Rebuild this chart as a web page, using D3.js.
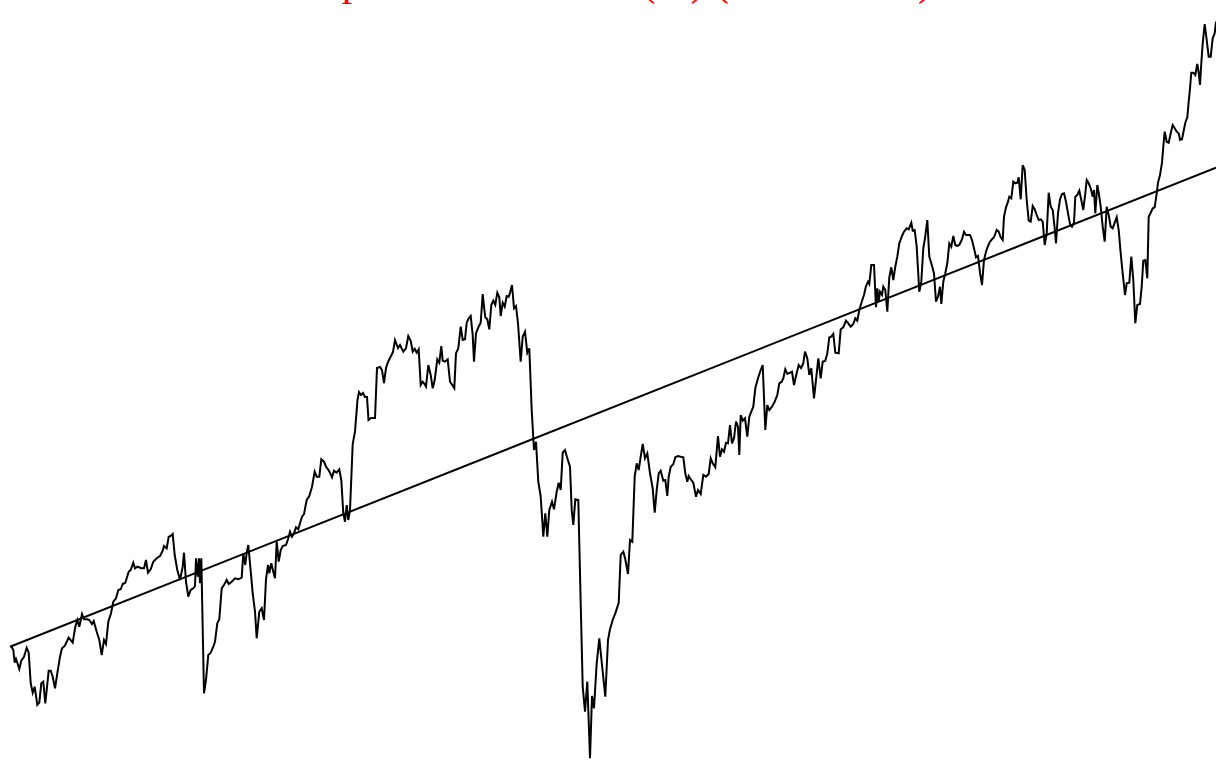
<!DOCTYPE html>
<html>
<head>
<meta charset="utf-8">
<script src="https://cdn.jsdelivr.net/npm/d3@7"></script>
<style>
  html, body { margin: 0; padding: 0; background: #fff; }
  svg { display: block; }
</style>
</head>
<body>
<svg id="chart" width="1216" height="761"></svg>
<script>
// ---- data ----
const titleText = "S&P 500 price vs. its trend (%) (1990\u20132024)";

// time index (weeks from start)
const weeks = [
1,3.3,4.7,6,7.3,9.3,11.3,14,16.7,18.7,20.7,22.7,24.7,27.3,29.3,31.3,33.3,35.3,38.7,40.7,
42.7,45,47.3,50,52,54.7,58.7,62.7,65.3,67.3,69.3,72,74,77.3,79.3,82,83.7,86.7,89.3,91.7,
94,96,98.3,101,103.3,106,108.3,110.7,112.7,115.3,118.7,120.7,123.3,125,127.3,131.7,134,136,138,140.7,
143.3,146.7,150,152.7,154,156.7,158.7,160.7,162.7,164.7,167.3,170,172.7,174,176,178.3,180.7,183.3,185,186,
187.7,189,190,191.3,194,196,198.3,200.7,203.3,205,207.3,209.3,211.7,214,216.7,218.7,221.7,225,228.3,231.7,
233.3,235.3,236.7,238.3,240,242.7,245,246.7,249.3,251.7,254,256,258,259.3,261.3,263.3,265,266.7,268.7,270.7,
272.7,276,278,280,282,284,286,288.3,290,292,294,296.7,299.3,302,304.7,306.7,309.3,311.3,314,316,
318,320,322,324,326.7,329.3,331.3,333.3,335,336.7,338.3,340,342.7,345,347.5,349,351,353,355,357,
358.5,361,365,367,370,372,374,376,378,381,383,385,388,390,393.3,396,398.3,400.7,402.7,404.7,
406.7,408.7,410.7,412.7,414,416,418.3,420.7,422.7,424.7,427.3,429.3,431.3,432.7,435,437.7,440,442.3,444.3,446,
448.3,450.7,452.7,455,456.7,458.7,460.7,462.7,464,466,468.3,470.7,472.7,474,475.3,477.3,479.3,481.3,483.3,485.3,
487.3,489.3,490.7,492.7,494.7,496.7,498.7,500,502,504,506,508,510.7,512.7,515,517.3,519.3,521.7,524,526,
528.3,530.7,533.3,535.3,537.3,539.3,542,544,546.7,548.7,550.7,552.7,555,557.3,560,561.7,563.3,565.3,568.3,570.7,
572.7,575,577.3,580,582,584,586.7,589.3,592,595.3,598,600,602.7,605.3,608.7,610.7,613.3,615.3,618,620,
622.3,624.7,626.7,628.7,630.7,632.7,635,637.3,640,642.7,644.7,646.7,648.7,650.7,653.3,655.3,657.3,658.7,660.7,663.3,
665.3,668,670.7,673.3,675.3,677.3,678.7,680.7,683.3,686,688,690.7,693.3,696,698.7,700.7,702.7,705.3,708,710,
712,714,716,718,720,722,724,726,728,729.3,730.7,732.7,735,737.3,739.3,741.3,743.3,745.3,748,750.7,
752.7,755.3,757.3,759.3,762,764.7,767.3,769.3,771.7,773.3,775.3,777.3,780,782,784,786,788.7,791,793.3,795,
797.3,799.3,801.3,804,806,808.3,810.7,812.7,815.3,817.3,819.3,821.3,823.3,825.3,828.7,830.7,833.3,836,838.3,840.7,
843.3,845.3,847.3,849.3,851.7,854,856,858,859.3,861.3,864,866,867.3,868.7,870,872,873.3,875.3,877.3,879.3,
881.3,883.3,885.3,887.3,889.3,892,894,896.7,898.7,901.3,902.7,904.7,906.7,909.3,911.3,913.3,915,917.3,919.3,921.3,
924,926,928,930,931.3,933.3,935.3,937.3,939.3,941.3,943.3,945.3,947.3,949.3,952,954,956,960,962,964,
966,968,970,972,974,976,978,980,982,984,986.7,988.7,990.7,992.7,994,996,998,999.3,1001.3,1003.3,
1005.3,1007.3,1008.7,1010.7,1012.7,1014.7,1016.7,1018.7,1020.7,1022.7,1024.7,1026.7,1028.7,1030.7,1032.7,1034.7,1036.7,1038.7,1040.7,1042.7,
1044.7,1046,1048,1050,1052,1054,1056,1058,1060,1062,1064,1065.3,1067.3,1069.3,1071.3,1073.3,1075.3,1076.7,1078.7,1080.7,
1082.7,1084,1085.3,1087.3,1088.7,1090.7,1092.7,1094.7,1096.7,1098.7,1100.7,1102.7,1104.7,1106.7,1108.7,1110.7,1112.7,1115,1116.7,1119.3,
1121.3,1123.3,1125.3,1127.3,1130,1131.7,1133.3,1135.3,1137.3,1138.7,1140.7,1142.7,1144.7,1146.7,1148,1150,1152,1153.3,1154.7,1156.7,
1158.7,1160.7,1162.7,1164.7,1166.7,1168.7,1170,1172,1173.3,1175.3,1177.3,1178.7,1180,1181.3,1183.3,1185.3,1187.3,1188.7,1190,1191.3,
1192.7,1194.7,1196.7,1198.7,1200.7,1202.7,1204.7,1206
];

// price level (index points)
const level = [
115.3,111,98.3,102,98.3,92,100.3,104.3,113.3,108.3,77.7,68.3,74.3,56,58.3,77.7,79.3,57.7,90.3,90.3,
84.3,72.7,87.7,104.3,112.7,115,123.3,118.3,134.3,141,134.3,147,141.7,141.7,141,137,140,129.3,121,106,
121,117,139.3,147.7,159.3,162.7,171,171.7,177,178.3,189.3,191,198.3,192.7,194.3,192.7,192.7,201,188.3,191.7,
199.3,202.7,205,210.3,215,212.7,224.3,225,227,206,191,181,194.3,208.3,179.3,164.3,171,172.7,175,202.7,
184.3,202.7,177.7,202.7,67.7,81,106,108.3,114.3,119.3,137.7,141.7,172.7,176,181,177,179.3,182.7,181.7,183.3,
207.7,196,208.3,216,197.7,167.7,149.3,122.7,149.3,152.7,141,181.7,196,187.7,197.7,189.3,182.7,219.3,199.3,211,
215,216,221.7,229.3,224.3,227.7,233.7,231.7,237.7,244.3,247,261,265,274.3,289.3,284.3,284.3,301.7,299.3,294.3,
291.7,288.3,283.7,290.3,288.3,291.7,281,247.7,239.3,256,241,251,317,329.3,361,369,366,368,364,364,
341,343,343,393,394,391,378,393,399,405,409,421,413,416,409.3,412.7,425,420.3,409.3,412.3,
408.3,411.7,376,379.3,377.7,374.3,396,386,372.7,381,401.7,398.3,415,400.3,399.3,401.7,379.3,376,372.7,407.7,
412.7,434.3,421,421.7,438.3,442.7,445,426,399.3,427.7,433.7,438.3,467,454.3,443.7,441.7,431.7,456,460.3,456,
468.3,463.7,445,458.3,454.3,465,464.3,468.3,476,452.7,455,437.7,399.3,424.3,429.3,408.3,412.7,351,311,319.3,
279.3,264.3,224.3,247.7,224.3,251,259.3,251.7,269.3,278.3,271,308.3,311,302.7,294.3,251,236,261.7,261,157.7,
74.3,49.3,79.3,2.7,65,52.7,97.7,122.7,96,64.3,121,131.7,141,147.7,158.3,206,209.3,201.7,187,221,
219.3,284.3,297.7,291,304.3,317,302.7,307.7,287.7,272.7,248.3,271,287.7,290.3,280.3,281,265,284.3,294.3,296.7,
303.7,305,304.3,303.7,287.7,279.3,285,281.7,278.3,264.3,271,267,286,284.3,287,302.7,297.7,293.7,325,304.3,
311.7,309.3,318.3,317.7,336,317.7,322.7,339.3,334.3,306,346,340.3,342.7,324.3,344.3,349.3,354.3,372.7,382.7,391,
396,331,356,351,354.3,359.3,366,377.7,379.3,382.7,391.7,387,388.3,389.3,376,385,396,393,397.7,409.3,
402.7,386,392.7,362.7,381,402.7,382.7,399.3,400.3,407.7,423.7,424.3,427,408.3,407.7,431.7,433.7,440.3,437.7,434.3,
437,442.7,440.3,451,459.3,466,475,479.3,477,496,496,453.7,472.7,459.3,469.3,466,474.3,471,449.3,483.7,
493.7,481,494.3,504.3,517.7,525,529.3,532.7,531.7,538.3,530.3,531,514.3,469.3,479.3,512.7,522.7,541,504.3,497.7,
487.7,459.3,464.3,474.3,457,479.3,487.7,497.7,517.7,514.3,525,516,515,516,521.7,529.3,526,526,521,512.7,
503.7,505,488.3,476,501,509.3,515,519.3,521.7,523.7,531,529.3,523.7,521,544.3,553.7,559.3,564.3,562.7,579.3,
577.7,578.3,583.7,561.7,596,591,561,540.3,539.3,555,551.7,546,541,541.7,539.3,516,527.7,568.3,554.3,551,
532.7,517.7,547.7,561.7,567,567.7,559.3,547.7,537,534.3,538.3,564.3,566,570.3,561,551,567.7,581,577.7,572.7,
564.3,571,547.7,576,568.3,554.3,534.3,519.3,554.3,546,534.3,532.7,538.3,543.7,531,507.7,487.7,466,477.7,478.3,
504.3,481,437.7,456,457,474.3,500.3,501,482.7,544.3,548.3,552.7,553.7,567.7,578.3,586,598.3,614.3,629.3,619.3,
618.3,627.7,636,632.7,629.3,627.7,621,621.7,628.3,638.3,643.7,659.3,672.7,688.3,688.3,686,697,688.3,676,697.7,
717.7,737,721,704.3,704.3,722.7,727.7,739.3
];

// fitted linear trend: value at first and last week
const trendWeeks = [0, 1206];
const trendLevel = [114.3, 593.3];

// ---- drawing ----
const W = 1216, H = 761;
const svg = d3.select("#chart");
svg.append("rect").attr("width", W).attr("height", H).attr("fill", "#fff");

const x = d3.scaleLinear().domain([0, 1206]).range([10, 1216]);
const y = d3.scaleLinear().domain([0, 761]).range([761, 0]);

const series = weeks.map((w, i) => ({ w, v: level[i] }));
const trend = trendWeeks.map((w, i) => ({ w, v: trendLevel[i] }));

const line = d3.line().x(d => x(d.w)).y(d => y(d.v));

svg.append("path")
  .datum(series)
  .attr("fill", "none")
  .attr("stroke", "#000")
  .attr("stroke-width", 2)
  .attr("stroke-linejoin", "miter")
  .attr("d", line);

svg.append("path")
  .datum(trend)
  .attr("fill", "none")
  .attr("stroke", "#000")
  .attr("stroke-width", 2)
  .attr("d", line);

svg.append("text")
  .attr("x", 180)
  .attr("y", -5)
  .attr("fill", "#ff0000")
  .attr("font-family", "'Liberation Serif', 'Times New Roman', serif")
  .attr("font-size", 42)
  .text(titleText);
</script>
</body>
</html>
